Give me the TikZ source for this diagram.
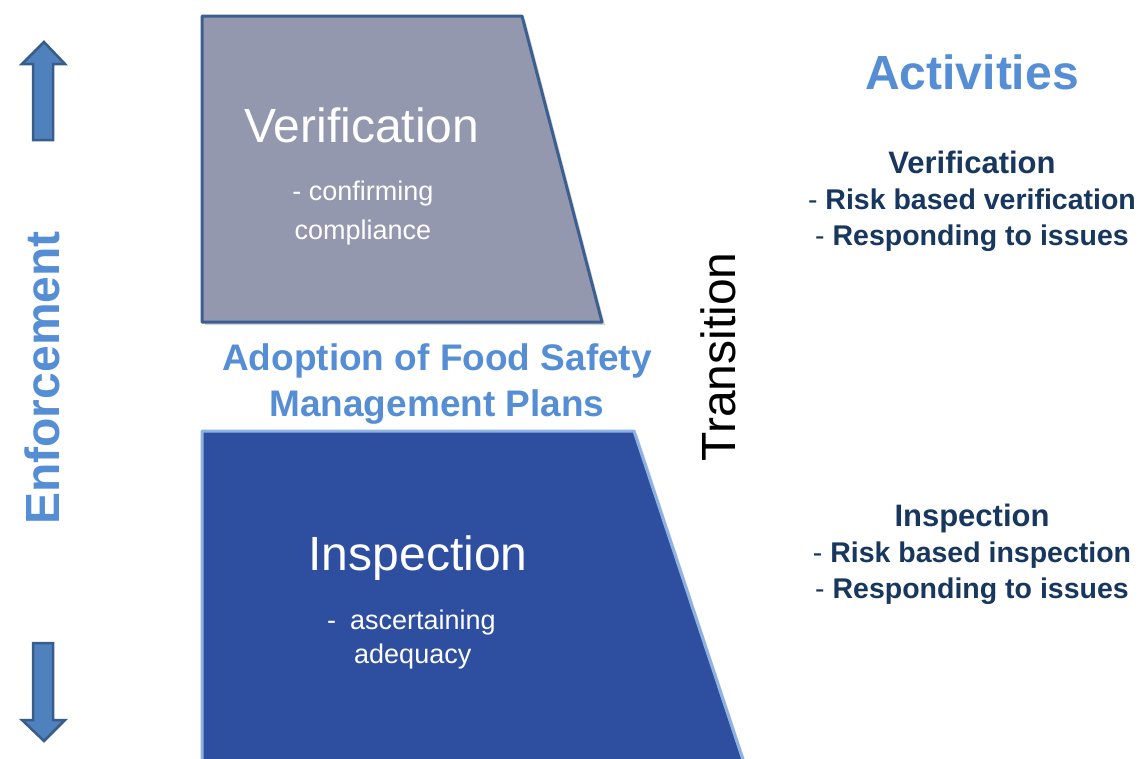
\documentclass[tikz,border=0pt]{standalone}
\usepackage{fontspec}
\setmainfont{Liberation Sans}
\usetikzlibrary{shadows, positioning}
\definecolor{boxgrey}{RGB}{148,152,175}
\definecolor{boxedge}{RGB}{59,95,145}
\definecolor{deepblue}{RGB}{46,78,160}
\definecolor{paleedge}{RGB}{141,178,226}
\definecolor{titleblue}{RGB}{85,142,213}
\definecolor{navy}{RGB}{23,55,94}
\definecolor{arrowfill}{RGB}{79,129,189}
\definecolor{arrowedge}{RGB}{56,93,138}
\tikzstyle{every picture} = [x=1pt, y=-1pt]
\tikzstyle{stage box} = [line width=3pt, line join=round, drop shadow={opacity=0.35, shadow xshift=3pt, shadow yshift=-3pt}]
\tikzstyle{big arrow} = [fill=arrowfill, draw=arrowedge, line width=2.5pt]
\tikzstyle{box title} = [text=white, anchor=base, inner sep=0pt, font=\fontsize{48}{56}\selectfont]
\tikzstyle{box note} = [text=white, anchor=base, inner sep=0pt, font=\fontsize{27}{34}\selectfont]
\tikzstyle{side head} = [text=navy, anchor=base, inner sep=0pt, font=\fontsize{31}{36}\selectfont\bfseries]
\tikzstyle{side list} = [text=navy, anchor=base, inner sep=0pt, align=center, font=\fontsize{28.5}{36}\selectfont]

\begin{document}
\begin{tikzpicture}
            \useasboundingbox (0,0) rectangle (1141,758);
            % up and down arrows
            \draw[big arrow] (44,42) -- (65,64) -- (53,64) -- (53,140) -- (33,140) -- (33,64) -- (22,64) -- cycle;
            \draw[big arrow] (33,643) -- (53,643) -- (53,720) -- (65,720) -- (44,741) -- (22,720) -- (33,720) -- cycle;
            \node (enforcement) [rotate=90, text=titleblue, font=\fontsize{48}{56}\selectfont\bfseries] at (42,378) {Enforcement};

            % the two stages
            \draw[stage box, fill=boxgrey, draw=boxedge] (202,16) -- (522,16) -- (602,322) -- (202,322) -- cycle;
            \draw[stage box, fill=deepblue, draw=paleedge] (202,431) -- (634,431) -- (745,766) -- (202,766) -- cycle;

            \node (verif title) [box title] at (362,142) {Verification};
            \node (verif note) [box note, align=center] at (363,239) {- confirming\\[5pt]compliance};
            \node (insp title) [box title] at (418,570) {Inspection};
            \node (insp note) [box note, align=left, anchor=base west] at (327,663) {\makebox[23pt][l]{-}ascertaining\\\hspace{27pt}adequacy};

            \node (adoption) [text=titleblue, align=center, anchor=base, font=\fontsize{37}{46}\selectfont\bfseries] at (437,416) {Adoption of Food Safety\\Management Plans};
            \node (transition) [rotate=90, font=\fontsize{48}{56}\selectfont] at (718,357) {Transition};

            % activities column
            \node (activities) [text=titleblue, anchor=base, font=\fontsize{48}{56}\selectfont\bfseries] at (972,89) {Activities};
            \node (verif head) [side head] at (972,173) {Verification};
            \node (verif list) [side list] at (972,245) {- \textbf{Risk based verification}\\- \textbf{Responding to issues}};
            \node (insp head) [side head] at (972,526) {Inspection};
            \node (insp list) [side list] at (972,598) {- \textbf{Risk based inspection}\\- \textbf{Responding to issues}};
        \end{tikzpicture}
\end{document}
